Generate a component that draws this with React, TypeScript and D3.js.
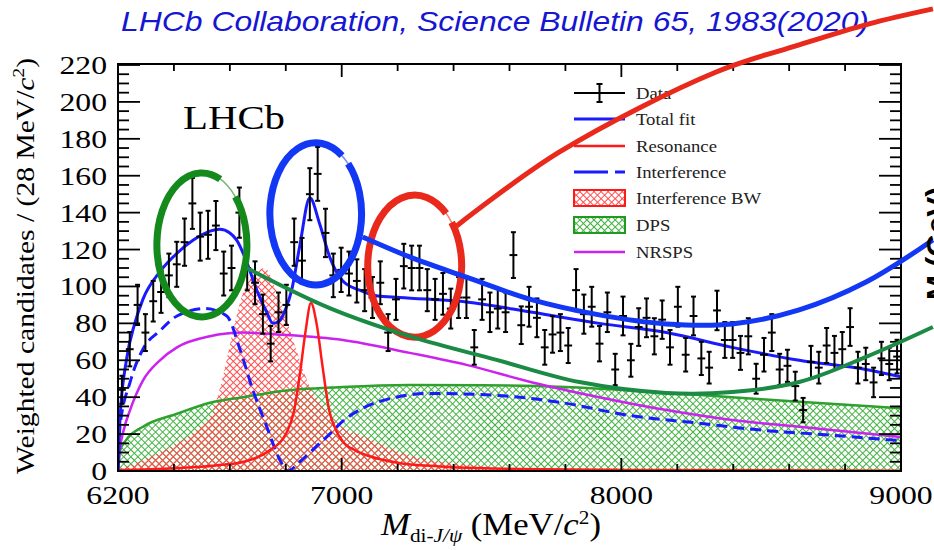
import React from 'react';
import * as d3 from 'd3';

// ---------- data ----------
const BIN_LO = 6200;
const BIN_W = 28;
const counts = [
  44, 66, 90, 75, 92, 97, 106, 112, 124, 145,
  127, 128, 133, 107, 110, 140, 110, 102, 85, 69,
  86, 90, 124, 114, 150, 161, 129, 106, 109, 107,
  103, 98, 94, 102, 75, 93, 111, 110, 110, 98,
  93, 96, 88, 94, 94, 67, 93, 86, 88, 86,
  117, 79, 89, 83, 67, 74, 75, 68, 98, 85,
  89, 69, 86, 55, 84, 60, 78, 83, 73, 82,
  67, 89, 63, 84, 61, 56, 87, 71, 71, 64,
  73, 50, 63, 75, 55, 57, 46, 33, 59, 56,
  68, 64, 66, 78, 56, 58, 48, 61, 58, 62,
];
const errors = [
  7.6, 9.3, 10.9, 10, 11, 11.3, 11.8, 12.2, 12.8, 13.8,
  13, 13, 13.3, 11.9, 12.1, 13.6, 12.1, 11.6, 10.6, 9.6,
  10.7, 10.9, 12.8, 12.3, 14.1, 14.6, 13.1, 11.8, 12, 11.9,
  11.7, 11.4, 11.1, 11.6, 10, 11.1, 12.1, 12.1, 12.1, 11.4,
  11.1, 11.3, 10.8, 11.1, 11.1, 9.4, 11.1, 10.7, 10.8, 10.7,
  12.4, 10.2, 10.8, 10.5, 9.4, 9.9, 10, 9.5, 11.4, 10.6,
  10.8, 9.6, 10.7, 8.5, 10.5, 8.9, 10.2, 10.5, 9.8, 10.4,
  9.4, 10.8, 9.1, 10.5, 9, 8.6, 10.7, 9.7, 9.7, 9.2,
  9.8, 8.1, 9.1, 10, 8.5, 8.7, 7.8, 6.6, 8.8, 8.6,
  9.5, 9.2, 9.3, 10.2, 8.6, 8.8, 8, 9, 8.8, 9.1,
];

const totalFit: [number, number][] = [
  [6200, 0], [6207, 28], [6230, 60], [6260, 80], [6289, 93], [6350, 108], [6411, 118],
  [6468, 125], [6529, 130], [6564, 131], [6600, 129], [6625, 125], [6661, 113], [6696, 98],
  [6732, 86], [6754, 80], [6775, 81], [6800, 88], [6821, 98], [6850, 122], [6886, 148],
  [6921, 134], [6957, 116], [7004, 103], [7064, 98], [7125, 95], [7207, 94], [7446, 91.6],
  [7682, 86], [7921, 80], [8161, 75], [8396, 67], [8636, 60], [8875, 55], [9000, 51],
];
const resonance: [number, number][] = [
  [6200, 0.5], [6400, 1.5], [6550, 3], [6650, 5], [6740, 11], [6800, 20], [6830, 33],
  [6850, 52], [6870, 75], [6890, 91], [6910, 80], [6932, 56], [6955, 33], [6980, 22],
  [7004, 16], [7050, 11], [7100, 8], [7200, 4.5], [7350, 2.5], [7600, 1.2], [8000, 0.6], [9000, 0.2],
];
const interference: [number, number][] = [
  [6200, 0], [6207, 24], [6243, 48], [6289, 66], [6350, 76], [6411, 84], [6511, 88],
  [6589, 84], [6636, 66], [6682, 44], [6732, 24], [6779, 6], [6807, 0], [6850, 5],
  [6900, 12], [6957, 20], [7004, 27], [7075, 34], [7196, 40], [7314, 42], [7554, 41],
  [7789, 37], [8032, 30], [8271, 26], [8511, 22], [8746, 19.5], [8950, 17], [9000, 16.5],
];
const interferenceBW: [number, number][] = [
  [6200, 0.5], [6289, 6], [6350, 10], [6411, 15], [6480, 22], [6529, 29], [6570, 48],
  [6610, 75], [6646, 96], [6690, 107], [6725, 110], [6760, 100], [6807, 80], [6850, 60],
  [6880, 48], [6946, 32], [7000, 24], [7075, 19], [7196, 11], [7314, 6], [7450, 3.5],
  [7554, 2], [7800, 1], [8200, 0.5], [9000, 0.2],
];
const dps: [number, number][] = [
  [6200, 0], [6207, 11], [6230, 17], [6289, 24], [6411, 31], [6529, 37], [6646, 40],
  [6768, 43], [7004, 45.5], [7243, 46.6], [7500, 46.5], [7800, 45.5], [8100, 43],
  [8396, 40], [8636, 37.5], [9000, 34],
];
const nrsps: [number, number][] = [
  [6200, 0], [6207, 12], [6220, 22], [6243, 33], [6289, 49], [6350, 60], [6411, 67],
  [6529, 73], [6646, 75], [6768, 74], [7004, 71], [7243, 64], [7446, 57.5], [7682, 48],
  [7921, 40], [8161, 33], [8396, 27.6], [8636, 24], [9000, 18.4],
];

// hand-drawn annotations (data units)
const blueArc: [number, number][] = [
  [7075, 126.8], [7243, 116], [7446, 105], [7682, 92.7], [7921, 84.6], [8161, 79.7],
  [8396, 79.7], [8636, 87.3], [8875, 102.4], [9114, 125.2],
];
const greenArc: [number, number][] = [
  [6661, 110], [6957, 88.3], [7254, 72.5], [7554, 60.2], [7850, 48.2], [8161, 42.3],
  [8396, 42.8], [8636, 48.2], [8875, 61.8], [9114, 78],
];
const redLine: [number, number][] = [
  [7411, 132.8], [7779, 172.9], [8339, 216.2], [8636, 230.9], [8886, 242.3], [9114, 250.4],
];
const ellipses = [
  { color: '#14891c', cm: 6500, cv: 122.5, dm: 161, dv: 39, gap: [-66, -42] },
  { color: '#1237f5', cm: 6907, cv: 139.3, dm: 164, dv: 38.5, gap: [-55, -45] },
  { color: '#e8291c', cm: 7261, cv: 111, dm: 168, dv: 38.5, gap: [-48, -38] },
];

const xMajorLabels = [6200, 7000, 8000, 9000];
const yLabels = [0, 20, 40, 60, 80, 100, 120, 140, 160, 180, 200, 220];
const legendItems = ['Data', 'Total fit', 'Resonance', 'Interference', 'Interference BW', 'DPS', 'NRSPS'];

// ---------- layout ----------
const L = 118, R = 901, T = 65, B = 471;
const x = d3.scaleLinear().domain([6200, 9000]).range([L, R]);
const y = d3.scaleLinear().domain([0, 220]).range([B, T]);

const C_BLUE = '#1a1aff';
const C_RED = '#ff1a1a';
const C_MAG = '#cc22ee';
const C_GREEN = '#2ea02e';

function arcPath(cx: number, cy: number, rx: number, ry: number, t0: number, t1: number) {
  const r = Math.PI / 180;
  const x0 = cx + rx * Math.cos(t0 * r), y0 = cy + ry * Math.sin(t0 * r);
  const x1 = cx + rx * Math.cos(t1 * r), y1 = cy + ry * Math.sin(t1 * r);
  const large = t1 - t0 > 180 ? 1 : 0;
  return `M${x0},${y0} A${rx},${ry} 0 ${large} 1 ${x1},${y1}`;
}

export default function App() {
  const line = d3.line<[number, number]>().x(d => x(d[0])).y(d => y(d[1])).curve(d3.curveMonotoneX);
  const area = d3.area<[number, number]>().x(d => x(d[0])).y0(y(0)).y1(d => y(d[1])).curve(d3.curveMonotoneX);
  const smooth = d3.line<[number, number]>().x(d => x(d[0])).y(d => y(d[1])).curve(d3.curveCatmullRom.alpha(0.5));

  const xTicks = d3.range(6200, 9001, 200);
  const yTicks = d3.range(0, 221, 5);
  const serif = '"Liberation Serif", "Times New Roman", serif';

  const bins = counts.map((c, i) => ({ m: BIN_LO + BIN_W * (i + 0.5), v: c, e: errors[i] }));

  const legY = [93, 119, 146, 172, 198, 225, 252];
  const lx0 = 574, lx1 = 625, ltx = 636;

  return (
    <svg width={934} height={550} style={{ position: 'absolute', left: 0, top: 0, background: '#fff' }}>
      <defs>
        <pattern id="hatchG" width={5} height={5} patternUnits="userSpaceOnUse" patternTransform="rotate(45)">
          <path d="M0,0 H5 M0,0 V5" stroke="#3fb23f" strokeWidth={1.9} />
        </pattern>
        <pattern id="hatchR" width={5} height={5} patternUnits="userSpaceOnUse" patternTransform="rotate(45)">
          <path d="M0,0 H5 M0,0 V5" stroke="#ff4a4a" strokeWidth={1.9} />
        </pattern>
        <clipPath id="plot">
          <rect x={L} y={T} width={R - L} height={B - T} />
        </clipPath>
      </defs>

      {/* title */}
      <text x={121} y={31} fontFamily='"Liberation Sans", Arial, sans-serif' fontStyle="italic" fontSize={28}
        fill="#1616d2" textLength={748} lengthAdjust="spacingAndGlyphs">
        LHCb Collaboration, Science Bulletin 65, 1983(2020)
      </text>

      <g clipPath="url(#plot)">
        <path d={area(dps) || ''} fill="url(#hatchG)" />
        <path d={area(interferenceBW) || ''} fill="url(#hatchR)" />
        <path d={line(dps) || ''} fill="none" stroke={C_GREEN} strokeWidth={2.5} />
        <path d={line(nrsps) || ''} fill="none" stroke={C_MAG} strokeWidth={2.5} />
        <path d={line(interference) || ''} fill="none" stroke={C_BLUE} strokeWidth={3} strokeDasharray="11,6" />
        <path d={line(resonance) || ''} fill="none" stroke={C_RED} strokeWidth={2.5} />
        <path d={line(totalFit) || ''} fill="none" stroke={C_BLUE} strokeWidth={3} />
        {bins.map((b, i) => (
          <g key={i} stroke="#000" strokeWidth={2}>
            <line x1={x(b.m)} x2={x(b.m)} y1={y(b.v - b.e)} y2={y(b.v + b.e)} />
            <line x1={x(b.m - BIN_W / 2)} x2={x(b.m + BIN_W / 2)} y1={y(b.v)} y2={y(b.v)} />
            <line x1={x(b.m) - 2.5} x2={x(b.m) + 2.5} y1={y(b.v - b.e)} y2={y(b.v - b.e)} />
            <line x1={x(b.m) - 2.5} x2={x(b.m) + 2.5} y1={y(b.v + b.e)} y2={y(b.v + b.e)} />
          </g>
        ))}
      </g>

      {/* frame and ticks */}
      <rect x={L} y={T - 1} width={R - L} height={B - T + 1} fill="none" stroke="#000" strokeWidth={2} />
      {xTicks.map(t => {
        const major = t % 1000 === 0;
        const len = major ? 13 : 7;
        return (
          <g key={t} stroke="#000" strokeWidth={1.8}>
            <line x1={x(t)} x2={x(t)} y1={B} y2={B - len} />
            <line x1={x(t)} x2={x(t)} y1={T - 1} y2={T - 1 + len} />
          </g>
        );
      })}
      {yTicks.map(t => {
        const major = t % 20 === 0;
        const len = major ? 22 : 11;
        return (
          <g key={t} stroke="#000" strokeWidth={1.8}>
            <line x1={L} x2={L + len} y1={y(t)} y2={y(t)} />
            <line x1={R} x2={R - len} y1={y(t)} y2={y(t)} />
          </g>
        );
      })}
      {yLabels.map(t => (
        <text key={t} transform={`translate(107,${y(t) + 9}) scale(1.22,1)`} textAnchor="end"
          fontFamily={serif} fontSize={26} fill="#000">{t}</text>
      ))}
      {xMajorLabels.map(t => (
        <text key={t} transform={`translate(${x(t)},${504}) scale(1.22,1)`} textAnchor="middle"
          fontFamily={serif} fontSize={26} fill="#000">{t}</text>
      ))}

      {/* axis titles */}
      <text transform={`translate(34,${266}) rotate(-90)`} textAnchor="middle" fontFamily={serif} fontSize={26}
        fill="#000" textLength={416} lengthAdjust="spacingAndGlyphs">
        Weighted candidates / (28 MeV/<tspan fontStyle="italic">c</tspan><tspan fontSize={17} dy={-10}>2</tspan><tspan dy={10}>)</tspan>
      </text>
      <text transform="translate(381,535) scale(1.12,1)" fontFamily={serif} fontSize={31} fill="#000">
        <tspan fontStyle="italic">M</tspan>
        <tspan fontSize={19} dy={7}>di-</tspan><tspan fontSize={19} fontStyle="italic">J/ψ</tspan>
        <tspan dy={-7}> (MeV/</tspan><tspan fontStyle="italic">c</tspan><tspan fontSize={19} dy={-11}>2</tspan><tspan dy={11}>)</tspan>
      </text>

      <text transform="translate(183,129) scale(1.2,1)" fontFamily={serif} fontSize={34} fill="#000">LHCb</text>

      {/* legend */}
      <g>
        <line x1={lx0} x2={lx1} y1={legY[0]} y2={legY[0]} stroke="#000" strokeWidth={2} />
        <line x1={(lx0 + lx1) / 2} x2={(lx0 + lx1) / 2} y1={legY[0] - 9} y2={legY[0] + 9} stroke="#000" strokeWidth={2} />
        <line x1={(lx0 + lx1) / 2 - 3} x2={(lx0 + lx1) / 2 + 3} y1={legY[0] - 9} y2={legY[0] - 9} stroke="#000" strokeWidth={2} />
        <line x1={(lx0 + lx1) / 2 - 3} x2={(lx0 + lx1) / 2 + 3} y1={legY[0] + 9} y2={legY[0] + 9} stroke="#000" strokeWidth={2} />
        <line x1={lx0} x2={lx1} y1={legY[1]} y2={legY[1]} stroke={C_BLUE} strokeWidth={3} />
        <line x1={lx0} x2={lx1} y1={legY[2]} y2={legY[2]} stroke={C_RED} strokeWidth={2.5} />
        <line x1={lx0} x2={lx1} y1={legY[3]} y2={legY[3]} stroke={C_BLUE} strokeWidth={3} strokeDasharray="34,7" />
        <rect x={lx0} y={legY[4] - 8} width={lx1 - lx0} height={16} fill="url(#hatchR)" stroke={C_RED} strokeWidth={2} />
        <rect x={lx0} y={legY[5] - 8} width={lx1 - lx0} height={16} fill="url(#hatchG)" stroke="#1f9a1f" strokeWidth={2} />
        <line x1={lx0} x2={lx1} y1={legY[6]} y2={legY[6]} stroke={C_MAG} strokeWidth={2.5} />
        {legendItems.map((s, i) => (
          <text key={s} transform={`translate(${ltx},${legY[i] + 6}) scale(1.1,1)`} fontFamily={serif} fontSize={17} fill="#222">{s}</text>
        ))}
      </g>

      {/* hand-drawn annotations */}
      {ellipses.map((e, i) => {
        const cx = x(e.cm), cy = y(e.cv);
        const rx = x(e.cm + e.dm) - cx, ry = cy - y(e.cv + e.dv);
        return (
          <g key={i} fill="none" stroke={e.color}>
            <ellipse cx={cx} cy={cy} rx={rx} ry={ry} strokeWidth={1.5} opacity={0.6} />
            <path d={arcPath(cx, cy, rx, ry, e.gap[1], e.gap[0] + 360)} strokeWidth={7} />
          </g>
        );
      })}
      <path d={smooth(blueArc) || ''} fill="none" stroke="#1237f5" strokeWidth={5} />
      <path d={smooth(greenArc) || ''} fill="none" stroke="#1b8a45" strokeWidth={4} />
      <path d={smooth(redLine) || ''} fill="none" stroke="#e8291c" strokeWidth={5} />

      {/* partly visible text from a neighbouring slide */}
      <text transform="translate(947,300) rotate(-90)" fontFamily='"Liberation Sans", Arial, sans-serif'
        fontWeight="bold" fontSize={30} fill="#000">M (GeV)</text>
    </svg>
  );
}
